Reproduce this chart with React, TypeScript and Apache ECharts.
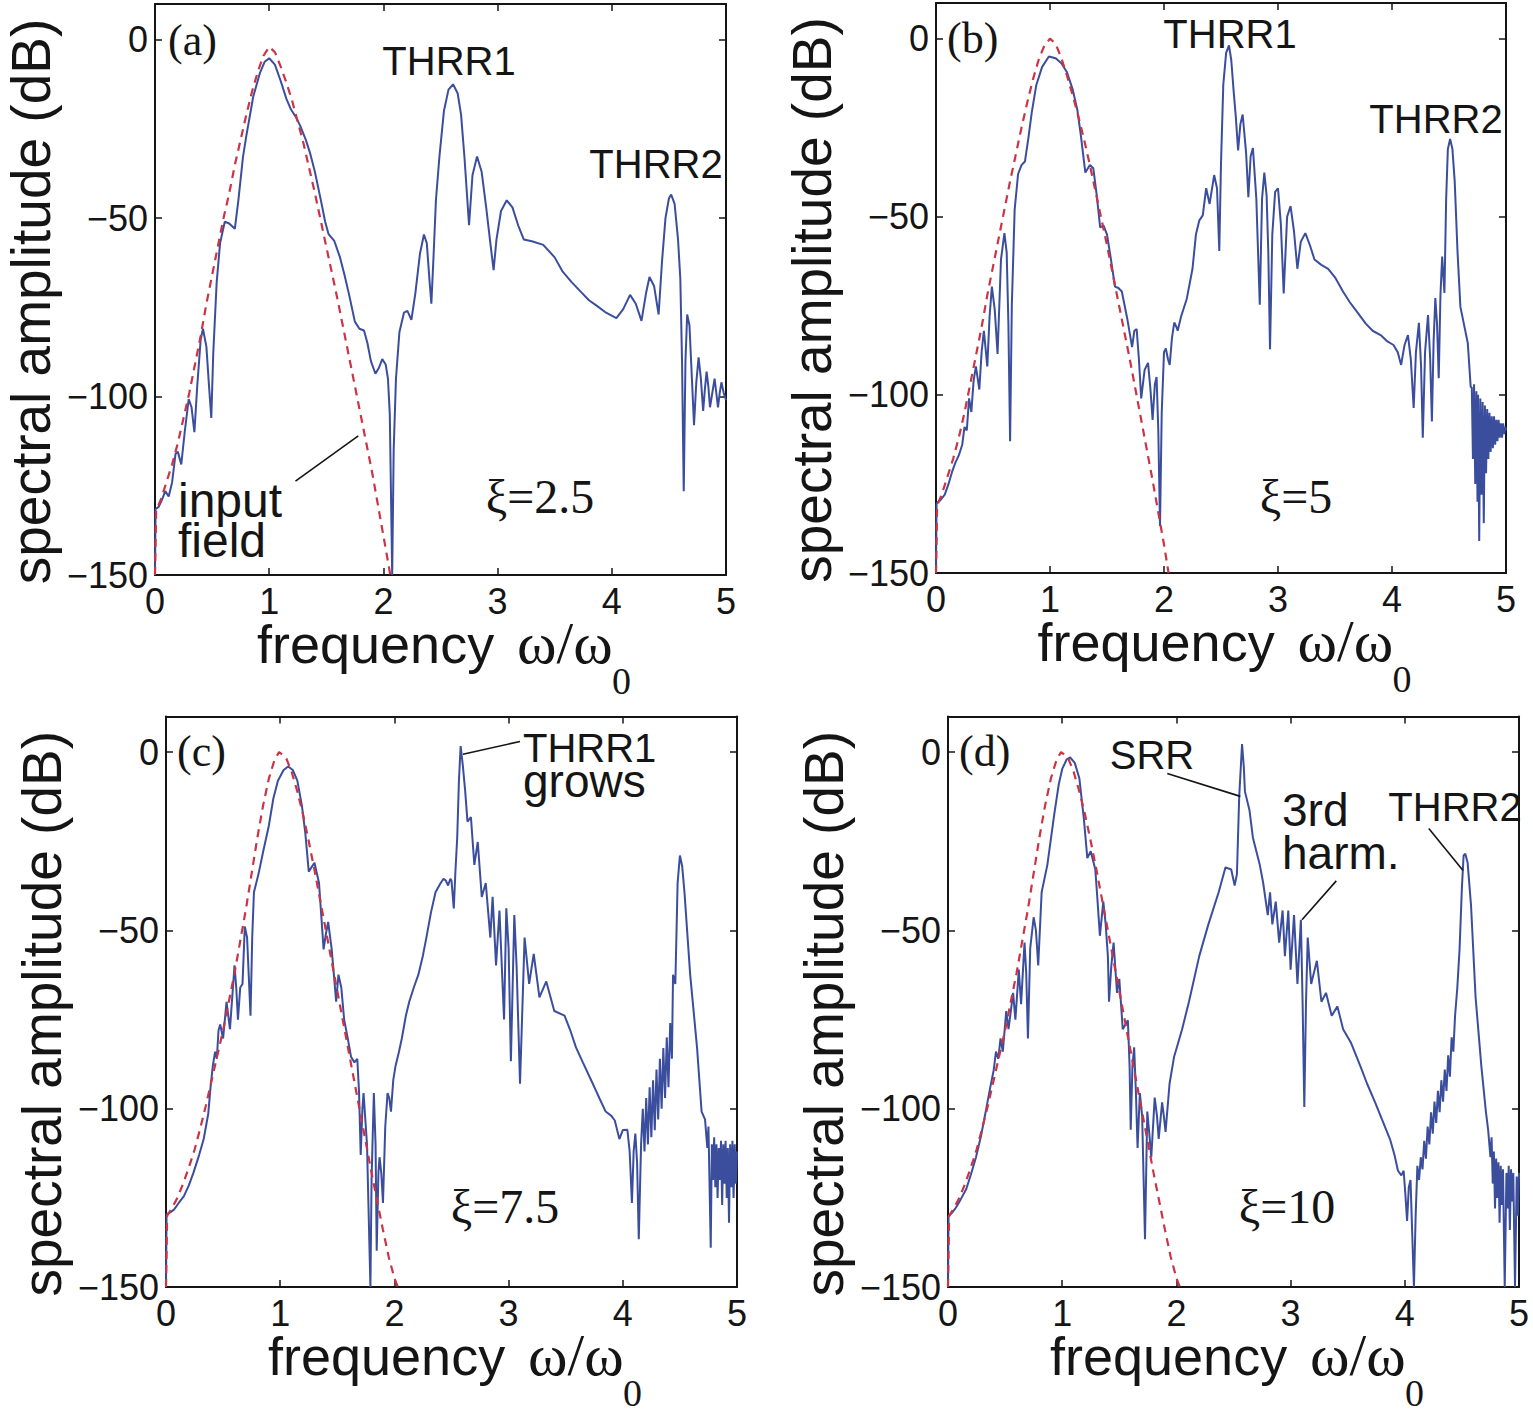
import React, { useEffect, useRef } from "react";
import * as echarts from "echarts";

// ---------------- data ----------------
const X_TICKS = [0, 1, 2, 3, 4, 5];
const Y_TICKS = [-150, -100, -50, 0];
const PANEL_LABELS = ["(a)", "(b)", "(c)", "(d)"];
const XI_LABELS = ["ξ=2.5", "ξ=5", "ξ=7.5", "ξ=10"];
const Y_TITLE = "spectral amplitude (dB)";
const X_TITLE = ["frequency", "ω/ω", "0"];

const RED_A = [[0,-150],[0.01,-132],[0.05,-129],[0.1,-124],[0.15,-119],[0.2,-113],[0.25,-106],[0.3,-99],[0.35,-91],[0.4,-83],[0.45,-74],[0.5,-66],[0.55,-58],[0.6,-50],[0.65,-43],[0.7,-35],[0.75,-28],[0.8,-21],[0.85,-14.5],[0.9,-9],[0.95,-4.5],[1.0,-2],[1.05,-3.5],[1.1,-7.5],[1.15,-12],[1.2,-17],[1.25,-23],[1.3,-29],[1.35,-36],[1.4,-43],[1.45,-50.5],[1.5,-58],[1.55,-65.5],[1.6,-73],[1.65,-81],[1.7,-89],[1.75,-97],[1.8,-105],[1.85,-113],[1.9,-121],[1.95,-130],[2.0,-139],[2.05,-148],[2.06,-150]];
const RED_B = [[0,-150],[0.01,-131],[0.05,-128],[0.1,-123],[0.15,-118],[0.2,-112],[0.25,-105],[0.3,-97],[0.35,-89],[0.4,-81],[0.45,-72],[0.5,-64],[0.55,-56],[0.6,-48],[0.65,-40],[0.7,-32.5],[0.75,-25],[0.8,-18],[0.85,-11.5],[0.9,-6],[0.95,-2],[1.0,0],[1.05,-1.5],[1.1,-5.5],[1.15,-10.5],[1.2,-16],[1.25,-22],[1.3,-28.5],[1.35,-35.5],[1.4,-43],[1.45,-50.5],[1.5,-58],[1.55,-66],[1.6,-74],[1.65,-82],[1.7,-90],[1.75,-98.5],[1.8,-107],[1.85,-115.5],[1.9,-124],[1.95,-133],[2.0,-142],[2.04,-150]];
const RED_CD = [[0,-150],[0.01,-130],[0.05,-128],[0.1,-125],[0.15,-121],[0.2,-116.5],[0.25,-111.5],[0.3,-105.5],[0.35,-99],[0.4,-92],[0.45,-85],[0.5,-78],[0.55,-70],[0.6,-62],[0.65,-53],[0.7,-44],[0.75,-34],[0.8,-24],[0.85,-15],[0.9,-7.5],[0.95,-2.2],[0.99,0],[1.05,-1.5],[1.1,-5.5],[1.15,-11],[1.2,-17.5],[1.25,-25],[1.3,-33],[1.35,-41.5],[1.4,-50],[1.45,-58.5],[1.5,-67],[1.55,-75.5],[1.6,-84],[1.65,-92.5],[1.7,-101],[1.75,-109.5],[1.8,-118],[1.85,-126],[1.9,-134],[1.95,-141.5],[2.0,-147.5],[2.03,-150]];

const BLUE_A = [[0,-150],[0.005,-131.5],[0.03,-131],[0.06,-129],[0.09,-126.5],[0.12,-128],[0.15,-124],[0.18,-116],[0.2,-115.5],[0.23,-119],[0.26,-110],[0.295,-100.7],[0.32,-103],[0.345,-110],[0.37,-97],[0.4,-84],[0.42,-81],[0.45,-86],[0.475,-98],[0.493,-106],[0.51,-88],[0.54,-68],[0.57,-57],[0.611,-51],[0.65,-51.5],[0.699,-53],[0.73,-45],[0.77,-33],[0.8,-26.9],[0.86,-16],[0.92,-9.2],[0.96,-6.2],[1.0,-5.2],[1.05,-7],[1.1,-11.5],[1.15,-16.5],[1.19,-19.5],[1.23,-21.5],[1.27,-24],[1.32,-28],[1.36,-32],[1.4,-37],[1.45,-44.6],[1.49,-51],[1.52,-54.5],[1.57,-56.4],[1.62,-61],[1.66,-66],[1.7,-71.5],[1.75,-79],[1.79,-81],[1.83,-81.5],[1.86,-85],[1.89,-90],[1.93,-93.6],[1.96,-92],[1.99,-89.5],[2.02,-91],[2.04,-95],[2.056,-105],[2.077,-150],[2.09,-115],[2.11,-95],[2.14,-82],[2.18,-76.5],[2.21,-76],[2.245,-78.5],[2.28,-71],[2.32,-60],[2.355,-54.6],[2.38,-57],[2.405,-68],[2.42,-74],[2.44,-60],[2.46,-45],[2.49,-33],[2.53,-20],[2.57,-14],[2.61,-12.5],[2.65,-15],[2.68,-21],[2.71,-33],[2.75,-52],[2.78,-38],[2.82,-32.75],[2.86,-37],[2.9,-47],[2.94,-58],[2.965,-64.6],[2.99,-56],[3.03,-48],[3.08,-45],[3.13,-47],[3.18,-52],[3.23,-56],[3.3,-56.5],[3.4,-57.5],[3.5,-61],[3.57,-65],[3.65,-68],[3.74,-71],[3.8,-73],[3.87,-74.6],[3.95,-76.5],[4.04,-78],[4.1,-75.5],[4.16,-71.5],[4.21,-74],[4.26,-78.8],[4.3,-71],[4.33,-66.5],[4.37,-69],[4.41,-77],[4.44,-62],[4.47,-50],[4.5,-44.5],[4.52,-43.4],[4.55,-46],[4.58,-56],[4.6,-67],[4.615,-90],[4.63,-126.5],[4.645,-90],[4.66,-77],[4.68,-80],[4.7,-94],[4.72,-108],[4.74,-96],[4.76,-89],[4.78,-95],[4.8,-104],[4.815,-98],[4.83,-93],[4.845,-97],[4.86,-103],[4.88,-99],[4.9,-95],[4.915,-99],[4.93,-103],[4.945,-99],[4.96,-96],[4.98,-99],[5.0,-101]];

const BLUE_B = [[0,-150],[0.005,-130.5],[0.04,-129.5],[0.077,-128],[0.11,-125],[0.14,-121.7],[0.17,-119],[0.2,-117],[0.23,-114],[0.25,-109],[0.27,-110],[0.29,-101],[0.31,-104.8],[0.33,-96],[0.35,-92],[0.38,-98.5],[0.4,-88],[0.42,-82],[0.45,-92],[0.47,-78],[0.49,-69.6],[0.515,-76],[0.54,-88.5],[0.57,-62],[0.6,-54.6],[0.62,-60],[0.635,-80],[0.65,-113],[0.665,-75],[0.69,-48],[0.72,-38],[0.75,-35.5],[0.78,-34.5],[0.81,-28],[0.84,-20.7],[0.88,-13],[0.93,-8],[0.99,-5],[1.05,-5.5],[1.1,-6.9],[1.15,-9.5],[1.2,-14.4],[1.24,-20],[1.27,-27],[1.31,-37.6],[1.35,-35.5],[1.38,-36.4],[1.41,-44],[1.44,-53],[1.47,-52.5],[1.5,-55],[1.53,-61],[1.57,-69.6],[1.6,-70],[1.63,-71],[1.68,-79],[1.72,-86.6],[1.74,-82],[1.76,-81.5],[1.78,-90],[1.8,-101],[1.83,-93],[1.86,-91],[1.88,-98],[1.9,-107],[1.92,-97],[1.935,-95],[1.95,-110],[1.965,-136.8],[1.98,-105],[2.0,-88],[2.016,-87],[2.035,-90],[2.05,-91.6],[2.07,-84],[2.09,-79.7],[2.11,-81],[2.12,-82],[2.15,-78],[2.2,-73],[2.25,-64.6],[2.28,-55],[2.31,-51],[2.34,-49.6],[2.37,-42],[2.4,-46.4],[2.44,-38.3],[2.465,-42],[2.485,-59.6],[2.5,-35],[2.52,-13],[2.545,-4],[2.57,-1.9],[2.59,-6],[2.61,-14.4],[2.63,-22],[2.65,-31.4],[2.67,-24],[2.69,-21.3],[2.72,-32],[2.74,-44.5],[2.76,-33],[2.78,-30.7],[2.81,-45],[2.84,-74.7],[2.86,-45],[2.88,-37.6],[2.9,-44],[2.915,-60],[2.93,-87.2],[2.95,-55],[2.975,-43],[3.0,-42],[3.025,-52],[3.05,-71.5],[3.08,-50],[3.11,-47],[3.14,-54],[3.17,-64.6],[3.2,-57],[3.24,-54.6],[3.28,-58],[3.32,-62],[3.38,-63.5],[3.44,-64.6],[3.5,-67],[3.57,-71],[3.63,-74],[3.7,-77],[3.77,-80],[3.83,-82],[3.9,-83.2],[3.96,-85],[4.013,-86],[4.05,-88],[4.08,-91.6],[4.11,-86],[4.14,-83.2],[4.165,-90],[4.19,-103.7],[4.21,-88],[4.236,-79.8],[4.255,-92],[4.27,-112],[4.29,-88],[4.316,-77.6],[4.335,-90],[4.35,-107.5],[4.365,-85],[4.38,-72.8],[4.395,-80],[4.41,-95.3],[4.425,-72],[4.44,-61.2],[4.46,-71.4],[4.475,-45],[4.49,-31],[4.51,-28.2],[4.53,-31],[4.55,-40],[4.575,-60],[4.6,-75.3],[4.63,-80],[4.665,-85.5],[4.69,-97.7],[4.7,-98],[4.71,-118],[4.72,-97],[4.73,-125],[4.74,-99],[4.75,-130],[4.755,-100],[4.765,-141],[4.775,-101],[4.785,-128],[4.795,-102],[4.805,-136],[4.815,-103],[4.825,-122],[4.835,-104],[4.845,-118],[4.855,-105],[4.865,-116],[4.875,-106],[4.885,-115],[4.895,-106],[4.905,-114],[4.915,-107],[4.925,-113],[4.935,-107],[4.945,-112],[4.955,-108],[4.965,-112],[4.975,-108],[4.985,-111],[4.995,-109],[5.0,-110]];

const BLUE_C = [[0,-150],[0.005,-129.6],[0.04,-129],[0.07,-128.3],[0.11,-126.5],[0.157,-124.5],[0.2,-121.5],[0.24,-118],[0.29,-113],[0.33,-108.5],[0.37,-101.4],[0.39,-94],[0.41,-88],[0.43,-84],[0.445,-86],[0.46,-78],[0.475,-76.4],[0.5,-80.3],[0.53,-70],[0.56,-77.7],[0.6,-59.8],[0.615,-66],[0.63,-75],[0.65,-66],[0.67,-65],[0.69,-48.9],[0.71,-52],[0.74,-73.9],[0.755,-52],[0.77,-39.3],[0.81,-34.2],[0.85,-28],[0.9,-20.7],[0.94,-13],[0.98,-8],[1.03,-5],[1.07,-4],[1.11,-5],[1.15,-8],[1.19,-15],[1.22,-22.7],[1.25,-33.5],[1.28,-32],[1.3,-31],[1.34,-36.7],[1.36,-46],[1.38,-55.3],[1.4,-51],[1.42,-47.6],[1.45,-55],[1.47,-62.4],[1.49,-70],[1.51,-62.4],[1.535,-66],[1.56,-75],[1.59,-80],[1.62,-85.4],[1.65,-87],[1.675,-86],[1.69,-95],[1.705,-113],[1.72,-100],[1.73,-95.6],[1.76,-110],[1.79,-150],[1.8,-120],[1.82,-95.6],[1.835,-110],[1.845,-139.8],[1.86,-118],[1.87,-113.6],[1.885,-118],[1.9,-126.4],[1.92,-105],[1.94,-95.6],[1.955,-97],[1.97,-100.8],[1.99,-92],[2.01,-88],[2.04,-84],[2.065,-80.3],[2.1,-74],[2.13,-70],[2.17,-66],[2.21,-62.4],[2.25,-57],[2.28,-52],[2.32,-45],[2.36,-39.3],[2.4,-37],[2.43,-35.5],[2.45,-36],[2.47,-37.4],[2.49,-35.5],[2.5,-36],[2.52,-43.8],[2.535,-33],[2.55,-24],[2.565,-8],[2.58,1.7],[2.6,-4],[2.62,-11],[2.64,-19.5],[2.67,-18.2],[2.7,-31.6],[2.73,-25.2],[2.765,-40.6],[2.8,-36.7],[2.84,-52],[2.86,-40.6],[2.89,-59.8],[2.92,-44.4],[2.96,-75],[2.98,-43.8],[3.0,-55],[3.02,-86.7],[3.05,-45.7],[3.07,-60],[3.1,-93],[3.14,-52],[3.18,-65],[3.22,-56.6],[3.27,-68.8],[3.33,-64.3],[3.4,-72.6],[3.49,-73.9],[3.54,-78],[3.59,-82.8],[3.65,-87],[3.72,-91.8],[3.78,-96],[3.85,-100.8],[3.9,-102],[3.93,-103.3],[3.97,-108.5],[4.0,-106],[4.04,-105.9],[4.06,-112],[4.08,-126.4],[4.095,-112],[4.11,-107],[4.125,-115],[4.14,-136.6],[4.16,-110],[4.175,-100],[4.19,-112],[4.205,-97],[4.22,-110],[4.235,-94],[4.25,-108],[4.265,-92],[4.28,-106],[4.295,-89],[4.31,-103],[4.325,-86],[4.34,-100],[4.355,-83],[4.37,-97],[4.385,-80],[4.4,-94],[4.415,-76],[4.43,-86],[4.44,-62.4],[4.46,-65],[4.48,-36.7],[4.5,-29],[4.52,-32],[4.54,-39.3],[4.59,-62.4],[4.65,-82.8],[4.69,-100.8],[4.72,-103],[4.74,-111],[4.75,-105],[4.77,-139],[4.78,-110],[4.79,-120],[4.8,-108],[4.81,-122],[4.82,-110],[4.83,-125],[4.84,-111],[4.85,-120],[4.86,-109],[4.87,-127],[4.88,-110],[4.89,-121],[4.9,-109],[4.91,-125],[4.92,-111],[4.93,-132],[4.94,-110],[4.95,-122],[4.96,-109],[4.97,-125],[4.98,-110],[4.99,-121],[5.0,-112]];

const BLUE_D = [[0,-150],[0.005,-130.2],[0.04,-129],[0.07,-127.7],[0.11,-125.5],[0.16,-122.5],[0.2,-118.5],[0.245,-113.6],[0.29,-107.5],[0.33,-100.8],[0.37,-94],[0.4,-89.2],[0.42,-84],[0.44,-86],[0.46,-80.3],[0.48,-84],[0.51,-72.6],[0.53,-77.7],[0.57,-67.5],[0.59,-75],[0.62,-61],[0.64,-70.7],[0.67,-53.4],[0.685,-62],[0.7,-80.3],[0.72,-55],[0.75,-46.3],[0.77,-50],[0.79,-59.8],[0.82,-39.3],[0.87,-31.6],[0.93,-17.5],[0.97,-9],[1.0,-4.7],[1.04,-2],[1.07,-1.5],[1.11,-3],[1.15,-7.3],[1.19,-18.8],[1.22,-29.7],[1.25,-27.8],[1.29,-32.9],[1.31,-42],[1.33,-51.5],[1.36,-41.9],[1.38,-48],[1.4,-57.2],[1.41,-70],[1.43,-60],[1.45,-53.4],[1.48,-67.5],[1.5,-63.6],[1.53,-77.7],[1.575,-75.2],[1.59,-88],[1.6,-105.9],[1.615,-88],[1.63,-82.8],[1.645,-95],[1.66,-111],[1.68,-95.6],[1.7,-102],[1.725,-136.6],[1.745,-100.8],[1.76,-106],[1.78,-113.6],[1.81,-96.9],[1.83,-102],[1.845,-108.5],[1.875,-98.2],[1.89,-102],[1.905,-106.5],[1.94,-93],[1.98,-85.4],[2.05,-77.7],[2.11,-70],[2.2,-57.2],[2.28,-48.3],[2.37,-39.3],[2.43,-32.3],[2.48,-32.9],[2.51,-37.4],[2.53,-34.2],[2.55,-12.4],[2.575,2.3],[2.59,-4],[2.6,-11],[2.64,-16.3],[2.67,-24],[2.7,-27.8],[2.73,-31.6],[2.76,-36.7],[2.8,-45.7],[2.82,-39.3],[2.84,-48.3],[2.87,-41.9],[2.9,-53.4],[2.93,-44.4],[2.95,-57.2],[2.98,-44.4],[3.0,-61],[3.03,-45.7],[3.06,-65],[3.09,-47],[3.105,-70],[3.12,-99.5],[3.135,-70],[3.15,-52],[3.18,-65],[3.23,-58.5],[3.27,-70],[3.31,-67.5],[3.36,-73.9],[3.41,-71.3],[3.46,-77.7],[3.53,-81.6],[3.61,-88],[3.67,-93],[3.74,-98.2],[3.8,-103],[3.87,-108.5],[3.91,-113],[3.94,-117.4],[3.97,-118.7],[3.99,-117.4],[4.005,-124],[4.02,-131.5],[4.035,-122],[4.05,-120],[4.065,-135],[4.08,-150],[4.095,-130],[4.11,-116],[4.125,-120],[4.14,-113.6],[4.155,-117],[4.17,-109],[4.185,-114],[4.2,-105],[4.215,-110],[4.23,-101],[4.245,-107],[4.26,-98],[4.275,-104],[4.29,-95],[4.305,-101],[4.32,-92],[4.335,-98],[4.35,-89],[4.365,-95],[4.38,-85],[4.395,-91],[4.41,-80],[4.425,-84],[4.44,-74],[4.46,-66],[4.48,-55],[4.5,-38],[4.515,-29],[4.53,-28.5],[4.55,-31],[4.58,-43],[4.62,-68.8],[4.67,-88],[4.71,-100.8],[4.73,-106],[4.75,-113.6],[4.76,-108],[4.77,-121],[4.78,-112],[4.79,-128],[4.8,-114],[4.81,-125],[4.82,-115],[4.83,-132],[4.84,-116],[4.85,-127],[4.86,-117],[4.875,-150],[4.89,-118],[4.9,-128],[4.91,-116],[4.92,-134],[4.93,-117],[4.94,-126],[4.95,-118],[4.965,-150],[4.98,-119],[4.99,-130],[5.0,-118]];

// leader lines (data coordinates)
const LEADERS_A = [[[1.23, -123.7], [1.78, -111]]];
const LEADERS_B: number[][][] = [];
const LEADERS_C = [[[2.6, -0.6], [3.1, 3]]];
const LEADERS_D = [
  [[1.92, -6], [2.56, -12.4]],
  [[3.4, -36.1], [3.1, -47]],
  [[4.21, -21.4], [4.51, -33.2]],
];

// ---------------- layout / style ----------------
const BLUE = "#3b4e9e";
const RED = "#cc3344";
const INK = "#151515";
const SANS = "'Liberation Sans', Arial, Helvetica, sans-serif";
const SERIF = "'Liberation Serif', 'Times New Roman', serif";

const GRIDS = [
  { left: 155, top: 4, width: 571, height: 571 },
  { left: 936, top: 3, width: 570, height: 570 },
  { left: 166, top: 716.5, width: 571, height: 570.5 },
  { left: 948, top: 716.5, width: 571, height: 570.5 },
];

const PANELS = [
  { blue: BLUE_A, red: RED_A, leaders: LEADERS_A },
  { blue: BLUE_B, red: RED_B, leaders: LEADERS_B },
  { blue: BLUE_C, red: RED_CD, leaders: LEADERS_C },
  { blue: BLUE_D, red: RED_CD, leaders: LEADERS_D },
];

type Ann = { text: string; x: number; y: number; size: number; font: string; align?: string; lh?: number };

// annotation texts, positioned in page pixels
const ANNOTATIONS: Ann[] = [
  { text: "THRR1", x: 449, y: 61, size: 40, font: SANS },
  { text: "THRR2", x: 656, y: 164, size: 40, font: SANS },
  { text: "input", x: 178, y: 500, size: 48, font: SANS, align: "left", lh: 38 },
  { text: "field", x: 178, y: 540, size: 48, font: SANS, align: "left", lh: 38 },
  { text: "THRR1", x: 1230, y: 34, size: 40, font: SANS },
  { text: "THRR2", x: 1436, y: 119, size: 40, font: SANS },
  { text: "THRR1", x: 523, y: 748, size: 40, font: SANS, align: "left", lh: 31 },
  { text: "grows", x: 523, y: 781, size: 46, font: SANS, align: "left", lh: 32 },
  { text: "SRR", x: 1152, y: 755, size: 40, font: SANS },
  { text: "3rd", x: 1282, y: 810, size: 46, font: SANS, align: "left", lh: 40 },
  { text: "harm.", x: 1282, y: 853, size: 46, font: SANS, align: "left", lh: 40 },
  { text: "THRR2", x: 1455, y: 807, size: 40, font: SANS },
];

const PANEL_LABEL_POS = [
  { x: 168, y: 40 },
  { x: 947, y: 38 },
  { x: 177, y: 751 },
  { x: 959, y: 751 },
];
const XI_POS = [
  { x: 540, y: 496 },
  { x: 1296, y: 496 },
  { x: 505, y: 1206 },
  { x: 1287, y: 1206 },
];

function fmtY(v: number) {
  if (Y_TICKS.indexOf(v) < 0) return "";
  return v < 0 ? "\u2212" + Math.abs(v) : String(v);
}
function fmtX(v: number) {
  return X_TICKS.indexOf(v) >= 0 ? String(v) : "";
}

function buildOption() {
  const xAxis: any[] = [];
  const yAxis: any[] = [];
  const series: any[] = [];
  const graphic: any[] = [];
  const axisLine = { show: true, onZero: false, lineStyle: { color: INK, width: 2 } };
  const axisTick = { show: true, inside: true, length: 7, lineStyle: { color: INK, width: 1.5 } };

  GRIDS.forEach((g, i) => {
    xAxis.push({
      gridIndex: i, type: "value", min: 0, max: 5, interval: 1, position: "bottom",
      axisLine, axisTick, splitLine: { show: false },
      axisLabel: { fontSize: 36, fontFamily: SANS, color: INK, margin: 9, lineHeight: 34, formatter: fmtX },
    });
    xAxis.push({
      gridIndex: i, type: "value", min: 0, max: 5, interval: 1, position: "top",
      axisLine, axisTick, splitLine: { show: false }, axisLabel: { show: false },
    });
    yAxis.push({
      gridIndex: i, type: "value", min: -150, max: 10, interval: 50, position: "left",
      axisLine, axisTick, splitLine: { show: false },
      axisLabel: { fontSize: 36, fontFamily: SANS, color: INK, margin: 7, formatter: fmtY },
    });
    yAxis.push({
      gridIndex: i, type: "value", min: -150, max: 10, interval: 50, position: "right",
      axisLine, axisTick, splitLine: { show: false }, axisLabel: { show: false },
    });

    const p = PANELS[i];
    series.push({
      type: "line", xAxisIndex: 2 * i, yAxisIndex: 2 * i, data: p.blue,
      symbol: "none", silent: true, z: 3,
      lineStyle: { color: BLUE, width: 2 },
      markLine: p.leaders.length ? {
        silent: true, symbol: ["none", "none"], animation: false,
        label: { show: false },
        lineStyle: { color: INK, width: 1.6, type: "solid" },
        emphasis: { disabled: true },
        data: p.leaders.map((l) => [{ coord: l[0] }, { coord: l[1] }]),
      } : undefined,
    });
    series.push({
      type: "line", xAxisIndex: 2 * i, yAxisIndex: 2 * i, data: p.red,
      symbol: "none", silent: true, z: 4,
      lineStyle: { color: RED, width: 2.2, type: [8, 6] },
    });

    // axis titles
    const cx = g.left + g.width / 2;
    const bottom = g.top + g.height;
    graphic.push({
      type: "text", x: g.left - 124, y: g.top + g.height / 2 + 12, rotation: Math.PI / 2, silent: true,
      style: { text: Y_TITLE, fontSize: 55, fontFamily: SANS, fill: INK, align: "center", verticalAlign: "middle" },
    });
    const fx = cx - 183.5;
    graphic.push({
      type: "text", x: fx, y: bottom + 69, silent: true,
      style: { text: X_TITLE[0], fontSize: 54, fontFamily: SANS, fill: INK, align: "left", verticalAlign: "middle", lineHeight: 42 },
    });
    graphic.push({
      type: "text", x: fx + 260, y: bottom + 67.5, silent: true,
      style: { text: X_TITLE[1], fontSize: 60, fontFamily: SERIF, fill: INK, align: "left", verticalAlign: "middle", lineHeight: 40 },
    });
    graphic.push({
      type: "text", x: fx + 355, y: bottom + 106, silent: true,
      style: { text: X_TITLE[2], fontSize: 38, fontFamily: SERIF, fill: INK, align: "left", verticalAlign: "middle", lineHeight: 30 },
    });
    // panel label and xi
    graphic.push({
      type: "text", x: PANEL_LABEL_POS[i].x, y: PANEL_LABEL_POS[i].y, silent: true,
      style: { text: PANEL_LABELS[i], fontSize: 44, fontFamily: SERIF, fill: INK, align: "left", verticalAlign: "middle" },
    });
    graphic.push({
      type: "text", x: XI_POS[i].x, y: XI_POS[i].y, silent: true,
      style: { text: XI_LABELS[i], fontSize: 48, fontFamily: SERIF, fill: INK, align: "center", verticalAlign: "middle" },
    });
  });

  ANNOTATIONS.forEach((a) => {
    graphic.push({
      type: "text", x: a.x, y: a.y, silent: true,
      style: {
        text: a.text, fontSize: a.size, fontFamily: a.font, fill: INK,
        align: a.align || "center", verticalAlign: "middle",
        lineHeight: a.lh || a.size,
      },
    });
  });

  return {
    animation: false,
    backgroundColor: "#ffffff",
    grid: GRIDS.map((g) => ({ ...g, containLabel: false, show: false })),
    xAxis, yAxis, series, graphic,
  };
}

export default function App() {
  const ref = useRef<HTMLDivElement>(null);
  useEffect(() => {
    document.body.style.margin = "0";
    document.body.style.overflow = "hidden";
    if (!ref.current) return;
    const chart = echarts.init(ref.current, undefined, { renderer: "svg" });
    chart.setOption(buildOption() as any);
    return () => chart.dispose();
  }, []);
  return <div ref={ref} style={{ width: 1533, height: 1416, background: "#fff" }} />;
}
